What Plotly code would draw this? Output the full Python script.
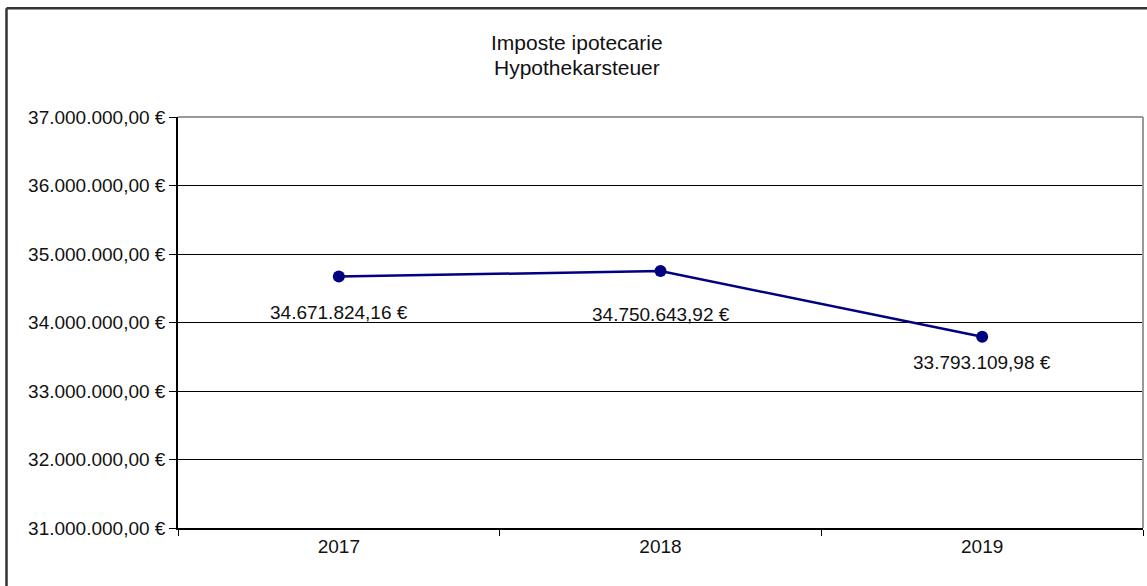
import plotly.graph_objects as go

EURO = "\u20ac"

years = ["2017", "2018", "2019"]
values = [34671824.16, 34750643.92, 33793109.98]
y_ticks = [31000000, 32000000, 33000000, 34000000, 35000000, 36000000, 37000000]
title_lines = ["Imposte ipotecarie", "Hypothekarsteuer"]

# style: vertical offset (px) of each value label below its point
label_offsets = [-36, -43, -26]


def fmt_eur(v):
    s = f"{v:,.2f}"
    s = s.replace(",", "X").replace(".", ",").replace("X", ".")
    return s + " " + EURO


W, H = 1147, 586
L, R, T, B = 178, 4, 117, 57.5
pw, ph = W - L - R, H - T - B
FONT = "Liberation Sans Narrow, Liberation Sans, Arial, sans-serif"

fig = go.Figure()
fig.add_trace(go.Scatter(
    x=years, y=values, mode="lines+markers",
    line=dict(color="#000080", width=2.5),
    marker=dict(color="#000080", size=12),
    hoverinfo="skip", showlegend=False,
))

# value labels (category axis: position by category index)
for i, (v, off) in enumerate(zip(values, label_offsets)):
    fig.add_annotation(x=i, y=v, xref="x", yref="y", text=fmt_eur(v), showarrow=False,
                       yshift=off, font=dict(size=19, color="#111"))

# title lines as two centered annotations
for line, yc in zip(title_lines, [42, 67]):
    fig.add_annotation(xref="paper", yref="paper",
                       x=(577 - L) / pw, y=1 + (T - yc) / ph,
                       text=line, showarrow=False, xanchor="center", yanchor="middle",
                       font=dict(size=21, color="#111"))

# outer frame (top and left edges visible)
fig.add_shape(type="line", xref="paper", yref="paper",
              x0=(6.5 - L) / pw, x1=(W + 5 - L) / pw,
              y0=1 + (T - 8) / ph, y1=1 + (T - 8) / ph,
              line=dict(color="#333", width=2.5))
fig.add_shape(type="line", xref="paper", yref="paper",
              x0=(6.5 - L) / pw, x1=(6.5 - L) / pw,
              y0=1 + (T - 8) / ph, y1=-(B + 5) / ph,
              line=dict(color="#333", width=2.5))
# plot area border (top/right grey)
fig.add_shape(type="line", xref="paper", yref="paper", x0=0, x1=1, y0=1, y1=1,
              line=dict(color="#999", width=2))
fig.add_shape(type="line", xref="paper", yref="paper", x0=1, x1=1, y0=0, y1=1,
              line=dict(color="#999", width=2))

fig.update_layout(
    width=W, height=H,
    margin=dict(l=L, r=R, t=T, b=B, autoexpand=False),
    paper_bgcolor="white", plot_bgcolor="white",
    font=dict(family=FONT, size=19, color="#111"),
    showlegend=False,
)
fig.update_xaxes(
    type="category", range=[-0.5, 2.5], tickson="boundaries",
    ticks="outside", ticklen=6, tickcolor="#000", tickwidth=1,
    showline=True, linecolor="#000", linewidth=1.5,
    showgrid=False, zeroline=False, fixedrange=True,
    tickfont=dict(size=19),
)
fig.update_yaxes(
    range=[31000000, 37000000], tickmode="array", tickvals=y_ticks,
    ticktext=[fmt_eur(v) for v in y_ticks],
    ticks="outside", ticklen=7, tickcolor="#000", tickwidth=1,
    showline=True, linecolor="#000", linewidth=1.5,
    showgrid=True, gridcolor="#000", gridwidth=1,
    zeroline=False, fixedrange=True,
    tickfont=dict(size=19),
)

fig.write_html("out.html", config={"displayModeBar": False},
               post_script="document.body.style.margin='0';document.body.style.overflow='hidden';")
